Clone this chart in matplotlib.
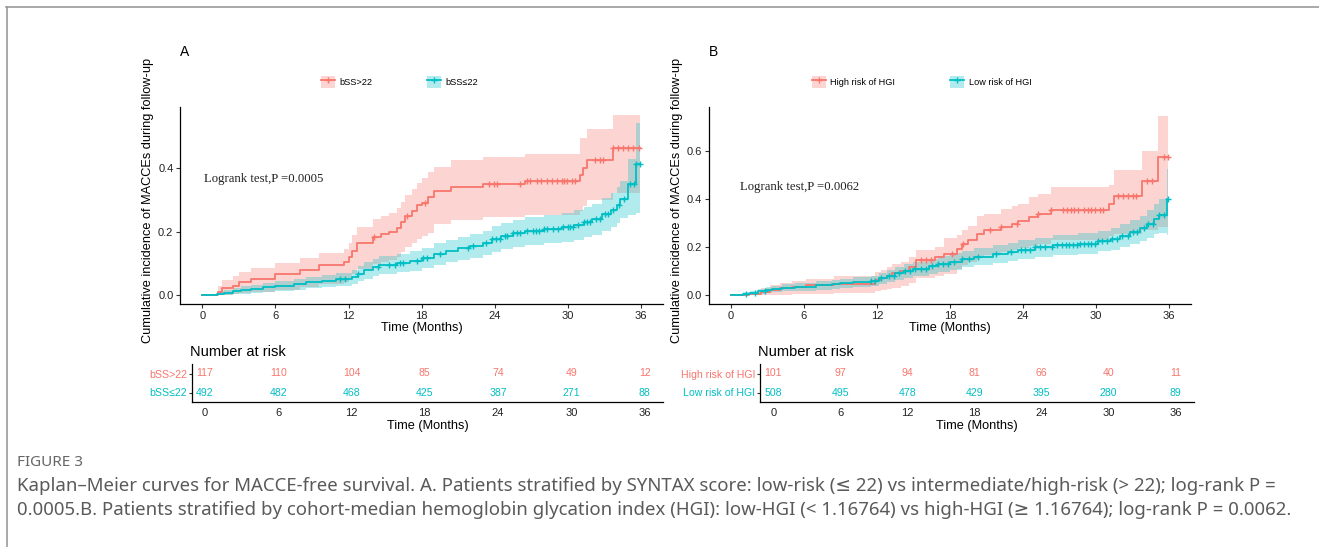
import numpy as np
import matplotlib
matplotlib.use('Agg')
import matplotlib.pyplot as plt
import matplotlib.patches as mpatches
from matplotlib.lines import Line2D

RED = '#F8766D'
CYAN = '#00BFC4'

# ---- panel A: bSS > 22 vs bSS <= 22 ----
a_hi_t = [0, 1.3, 1.6, 2.5, 3.0, 4.0, 6.0, 8.0, 9.6, 11.6, 12.0, 12.3, 12.7, 14.0, 14.7, 15.3, 16.0, 16.3,
          16.6, 17.2, 17.6, 18.0, 18.5, 19.0, 20.4, 23.0, 26.5, 31.0, 31.2, 31.6, 33.7, 35.9]
a_hi_v = [0, 0.01, 0.021, 0.03, 0.04, 0.05, 0.065, 0.08, 0.095, 0.105, 0.12, 0.14, 0.163, 0.184, 0.192, 0.2,
          0.212, 0.23, 0.25, 0.265, 0.284, 0.292, 0.31, 0.329, 0.342, 0.35, 0.361, 0.379, 0.4, 0.426, 0.463, 0.463]
a_hi_lo = [0, 0, 0.001, 0.003, 0.006, 0.01, 0.017, 0.026, 0.035, 0.042, 0.052, 0.066, 0.082, 0.098, 0.104,
           0.111, 0.12, 0.135, 0.152, 0.163, 0.178, 0.185, 0.195, 0.225, 0.238, 0.245, 0.253, 0.265, 0.28,
           0.3, 0.321, 0.321]
a_hi_up = [0, 0.03, 0.047, 0.06, 0.072, 0.085, 0.1, 0.117, 0.133, 0.145, 0.165, 0.19, 0.215, 0.24, 0.25, 0.26,
           0.275, 0.295, 0.315, 0.335, 0.355, 0.37, 0.39, 0.405, 0.426, 0.437, 0.447, 0.495, 0.495, 0.526,
           0.568, 0.568]
a_hi_cens = [14.1, 16.8, 18.3, 23.5, 23.9, 24.2, 26.1, 26.6, 26.9, 27.5, 27.8, 28.3, 28.7, 29.1, 29.5, 29.7,
             29.9, 30.3, 30.6, 32.2, 32.6, 32.9, 33.7, 34.1, 34.5, 34.9, 35.3, 35.8]

a_lo_t = [0, 1.2, 1.8, 2.5, 3.2, 4.0, 5.0, 6.0, 7.5, 8.5, 9.8, 11.0, 12.3, 12.8, 13.3, 14.0, 14.5, 16.0, 17.0,
          18.0, 19.0, 20.0, 21.0, 22.0, 23.0, 23.8, 24.5, 25.5, 26.5, 28.0, 29.5, 30.5, 31.3, 32.0, 32.8,
          33.5, 34.0, 34.3, 34.9, 35.6, 35.9]
a_lo_v = [0, 0.004, 0.008, 0.012, 0.016, 0.02, 0.025, 0.03, 0.035, 0.04, 0.045, 0.05, 0.058, 0.068, 0.078,
          0.088, 0.095, 0.102, 0.108, 0.118, 0.13, 0.14, 0.148, 0.155, 0.165, 0.178, 0.188, 0.196, 0.202,
          0.208, 0.215, 0.222, 0.23, 0.24, 0.255, 0.268, 0.285, 0.302, 0.35, 0.413, 0.413]
a_lo_lo = [0, 0, 0.001, 0.002, 0.004, 0.006, 0.01, 0.013, 0.017, 0.021, 0.025, 0.029, 0.035, 0.044, 0.052,
           0.06, 0.066, 0.072, 0.077, 0.085, 0.095, 0.104, 0.111, 0.117, 0.126, 0.137, 0.146, 0.153, 0.158,
           0.163, 0.169, 0.175, 0.182, 0.19, 0.203, 0.214, 0.228, 0.242, 0.253, 0.258, 0.258]
a_lo_up = [0, 0.012, 0.017, 0.022, 0.027, 0.032, 0.038, 0.045, 0.052, 0.058, 0.064, 0.07, 0.08, 0.092, 0.104,
           0.115, 0.123, 0.131, 0.138, 0.15, 0.163, 0.175, 0.184, 0.192, 0.203, 0.218, 0.229, 0.238, 0.245,
           0.252, 0.26, 0.268, 0.277, 0.289, 0.306, 0.322, 0.34, 0.36, 0.43, 0.542, 0.542]
a_lo_cens = [11.3, 11.7, 12.8, 14.4, 15.3, 15.8, 16.2, 16.5, 17.6, 18.1, 18.4, 19.5, 21.8, 22.2, 23.3, 23.8,
             24.1, 24.4, 24.8, 25.0, 25.5, 25.8, 26.1, 26.6, 27.1, 27.4, 27.6, 28.0, 28.3, 28.8, 29.2, 29.6,
             30.0, 30.2, 30.4, 30.8, 31.3, 31.6, 31.8, 32.3, 32.6, 33.0, 33.3, 33.7, 34.2, 34.6, 35.1, 35.4,
             35.6, 35.9]

# ---- panel B: high vs low risk of HGI ----
b_hi_t = [0, 1.5, 2.5, 3.2, 4.0, 5.0, 6.2, 8.5, 11.8, 12.3, 12.8, 13.2, 14.0, 14.6, 15.2, 16.8, 17.5, 18.6,
          19.0, 19.5, 20.2, 20.8, 22.2, 23.1, 23.6, 24.5, 25.2, 26.3, 31.1, 31.5, 33.8, 35.1, 35.9]
b_hi_v = [0, 0.003, 0.012, 0.022, 0.028, 0.033, 0.04, 0.048, 0.062, 0.07, 0.08, 0.09, 0.1, 0.118, 0.145,
          0.159, 0.17, 0.194, 0.212, 0.231, 0.256, 0.27, 0.284, 0.298, 0.311, 0.325, 0.34, 0.356, 0.382,
          0.412, 0.475, 0.578, 0.578]
b_hi_lo = [0, 0, 0, 0.001, 0.002, 0.003, 0.005, 0.008, 0.015, 0.02, 0.025, 0.03, 0.038, 0.05, 0.07, 0.08,
           0.088, 0.11, 0.125, 0.14, 0.158, 0.168, 0.178, 0.19, 0.198, 0.206, 0.215, 0.228, 0.245, 0.256,
           0.27, 0.284, 0.284]
b_hi_up = [0, 0.012, 0.028, 0.042, 0.05, 0.058, 0.068, 0.078, 0.095, 0.105, 0.115, 0.128, 0.14, 0.16, 0.19,
           0.2, 0.24, 0.25, 0.27, 0.29, 0.33, 0.34, 0.36, 0.37, 0.38, 0.41, 0.42, 0.45, 0.46, 0.52, 0.603,
           0.748, 0.748]
b_hi_cens = [15.6, 16.0, 16.4, 18.2, 19.1, 21.3, 22.2, 23.5, 25.2, 26.3, 27.3, 27.6, 27.9, 28.2, 28.5, 29.0,
             29.3, 29.6, 29.9, 30.3, 30.6, 31.8, 32.2, 32.6, 33.0, 33.3, 34.2, 34.6, 35.6, 35.9]

b_lo_t = [0, 1.0, 1.6, 2.2, 2.9, 3.4, 4.2, 5.3, 7.0, 8.3, 9.0, 10.0, 11.5, 12.2, 12.8, 13.5, 14.2, 15.0, 16.3,
          17.0, 18.0, 19.0, 20.0, 21.5, 22.8, 23.6, 25.0, 26.5, 28.5, 30.2, 31.2, 32.0, 32.8, 33.6, 34.2,
          34.8, 35.2, 35.8, 35.9]
b_lo_v = [0, 0.005, 0.01, 0.015, 0.02, 0.025, 0.03, 0.035, 0.04, 0.045, 0.05, 0.055, 0.06, 0.07, 0.08, 0.09,
          0.1, 0.11, 0.12, 0.13, 0.14, 0.15, 0.16, 0.17, 0.18, 0.19, 0.2, 0.208, 0.215, 0.225, 0.235, 0.248,
          0.262, 0.278, 0.298, 0.318, 0.333, 0.402, 0.402]
b_lo_lo = [0, 0, 0.002, 0.005, 0.008, 0.011, 0.015, 0.018, 0.022, 0.026, 0.03, 0.034, 0.038, 0.046, 0.055,
           0.063, 0.072, 0.08, 0.089, 0.098, 0.106, 0.115, 0.124, 0.133, 0.142, 0.151, 0.16, 0.167, 0.173,
           0.182, 0.19, 0.2, 0.212, 0.225, 0.24, 0.255, 0.258, 0.25, 0.25]
b_lo_up = [0, 0.012, 0.018, 0.025, 0.032, 0.038, 0.045, 0.05, 0.057, 0.063, 0.069, 0.075, 0.08, 0.092, 0.104,
           0.116, 0.128, 0.14, 0.152, 0.162, 0.174, 0.185, 0.196, 0.207, 0.218, 0.229, 0.24, 0.249, 0.257,
           0.268, 0.28, 0.296, 0.312, 0.33, 0.356, 0.38, 0.4, 0.527, 0.527]
b_lo_cens = [1.2, 2.0, 2.8, 11.5, 11.8, 12.3, 13.0, 13.4, 13.8, 14.3, 14.7, 15.1, 15.6, 16.0, 16.5, 17.0, 17.4,
             17.8, 18.3, 19.0, 19.6, 20.3, 21.8, 23.0, 23.8, 24.2, 24.6, 25.0, 25.4, 25.8, 26.4, 26.8, 27.2,
             27.5, 27.8, 28.1, 28.4, 28.7, 29.0, 29.3, 29.6, 29.9, 30.2, 30.5, 30.9, 31.3, 31.7, 32.1, 32.6,
             33.0, 33.4, 33.9, 34.3, 34.7, 35.2, 35.6, 35.9]

# numbers at risk
risk_times = [0, 6, 12, 18, 24, 30, 36]
a_names = ['bSS>22', 'bSS\u226422']
a_risk_hi = [117, 110, 104, 85, 74, 49, 12]
a_risk_lo = [492, 482, 468, 425, 387, 271, 88]
b_names = ['High risk of HGI', 'Low risk of HGI']
b_risk_hi = [101, 97, 94, 81, 66, 40, 11]
b_risk_lo = [508, 495, 478, 429, 395, 280, 89]

W, H = 1319, 547


def box(x0, y0, x1, y1):
    # pixel box (top-left origin) -> figure fraction rect
    return [x0 / W, 1 - y1 / H, (x1 - x0) / W, (y1 - y0) / H]


def style_axes(ax):
    for s in ['top', 'right']:
        ax.spines[s].set_visible(False)
    for s in ['left', 'bottom']:
        ax.spines[s].set_linewidth(0.9)
    ax.tick_params(labelsize=8, length=3, width=0.8, pad=2, colors='#333333', labelcolor='#222222')


def draw_curve(ax, t, v, lo, up, cens, colour):
    ax.fill_between(t, lo, up, step='post', color=colour, alpha=0.3, linewidth=0)
    ax.step(t, v, where='post', color=colour, linewidth=1.3)
    t = np.asarray(t)
    idx = np.searchsorted(t, cens, side='right') - 1
    ax.plot(cens, np.asarray(v)[idx], linestyle='none', marker='+', color=colour,
            markersize=5, markeredgewidth=1.0)


def draw_panel(fig, px, letter, curves, ylim, yticks, logrank, logrank_xy, names, risk, tbl, leg_x):
    x0, x1 = px
    ax = fig.add_axes(box(x0, 107, x1, 304))
    for c, colour in zip(curves, [RED, CYAN]):
        draw_curve(ax, *c, colour)
    ax.set_xlim(-1.8, 37.8)
    ax.set_ylim(*ylim)
    ax.set_xticks(risk_times)
    ax.set_yticks(yticks)
    ax.set_yticklabels(['%.1f' % y for y in yticks])
    style_axes(ax)
    ax.set_xlabel('Time (Months)', fontsize=9.2, labelpad=1)
    ax.text(logrank_xy[0], logrank_xy[1], logrank, fontsize=9.2, family='Liberation Serif',
            color='#222222', va='center')

    fig.text((x0 - 32) / W, 1 - 200 / H, 'Cumulative incidence of MACCEs during follow-up',
             rotation=90, ha='center', va='center', fontsize=9.2)
    fig.text((x0 + 0) / W, 1 - 52 / H, letter, fontsize=10, va='center')

    # legend above the plot
    handles = []
    for colour in [RED, CYAN]:
        handles.append((mpatches.Patch(color=colour, alpha=0.3, linewidth=0),
                        Line2D([], [], color=colour, linewidth=1.3, marker='+', markersize=5)))
    fig.legend(handles, names, loc='center left', bbox_to_anchor=(leg_x / W, 1 - 82 / H),
               ncol=2, frameon=False, fontsize=6.6, handlelength=1.5, handleheight=1.7,
               handletextpad=0.5, columnspacing=6.0, borderpad=0, borderaxespad=0)

    # number at risk table
    tx0, tx1, xl = tbl
    tab = fig.add_axes(box(tx0, 364, tx1, 402))
    tab.set_xlim(*xl)
    tab.set_ylim(0.5, 2.5)
    for row, (counts, colour) in enumerate(zip(risk, [RED, CYAN])):
        ypos = 2 - row
        for t, n in zip(risk_times, counts):
            tab.text(t, ypos, str(n), ha='center', va='center', fontsize=7.6, color=colour)
    tab.set_yticks([2, 1])
    tab.set_yticklabels(names)
    tab.set_xticks(risk_times)
    style_axes(tab)
    tab.tick_params(axis='y', labelsize=7.6, length=2.5, pad=1)
    tab.tick_params(axis='x', length=0, pad=4)
    for lab, colour in zip(tab.get_yticklabels(), [RED, CYAN]):
        lab.set_color(colour)
    tab.set_xlabel('Time (Months)', fontsize=9.2, labelpad=2)
    fig.text((tx0 - 2) / W, 1 - 352 / H, 'Number at risk', fontsize=10.5, va='center')


fig = plt.figure(figsize=(W / 100, H / 100), dpi=100)
plt.rcParams['font.family'] = ['Liberation Sans', 'DejaVu Sans']

draw_panel(fig, (180.4, 663), 'A',
           [(a_hi_t, a_hi_v, a_hi_lo, a_hi_up, a_hi_cens),
            (a_lo_t, a_lo_v, a_lo_lo, a_lo_up, a_lo_cens)],
           (-0.0283, 0.594), [0.0, 0.2, 0.4], 'Logrank test,P =0.0005', (0.1, 0.367),
           a_names, [a_risk_hi, a_risk_lo], (192, 663, (-1.06, 37.5)), 321)

draw_panel(fig, (709, 1191), 'B',
           [(b_hi_t, b_hi_v, b_hi_lo, b_hi_up, b_hi_cens),
            (b_lo_t, b_lo_v, b_lo_lo, b_lo_up, b_lo_cens)],
           (-0.0374, 0.785), [0.0, 0.2, 0.4, 0.6], 'Logrank test,P =0.0062', (0.75, 0.45),
           b_names, [b_risk_hi, b_risk_lo], (760, 1194, (-1.2, 37.65)), 812)

# caption block
cap_font = ['Noto Sans', 'DejaVu Sans']
fig.text(17 / W, 1 - 463 / H, 'FIGURE 3', fontsize=11, color='#666666', family=cap_font, va='center')
fig.text(17 / W, 1 - 486 / H,
         'Kaplan\u2013Meier curves for MACCE-free survival. A. Patients stratified by SYNTAX score: '
         'low-risk (\u2264 22) vs intermediate/high-risk (> 22); log-rank P =',
         fontsize=13.4, color='#5a5a5a', family=cap_font, va='center')
fig.text(17 / W, 1 - 510 / H,
         '0.0005.B. Patients stratified by cohort-median hemoglobin glycation index (HGI): '
         'low-HGI (< 1.16764) vs high-HGI (\u2265 1.16764); log-rank P = 0.0062.',
         fontsize=13.4, color='#5a5a5a', family=cap_font, va='center')

# thin frame along top and left edge
fig.add_artist(Line2D([6 / W, 1], [1 - 7 / H, 1 - 7 / H], color='#9a9a9a', linewidth=1.2))
fig.add_artist(Line2D([7 / W, 7 / W], [0, 1 - 7 / H], color='#9a9a9a', linewidth=1.2))

plt.savefig('out.png', dpi=100)
